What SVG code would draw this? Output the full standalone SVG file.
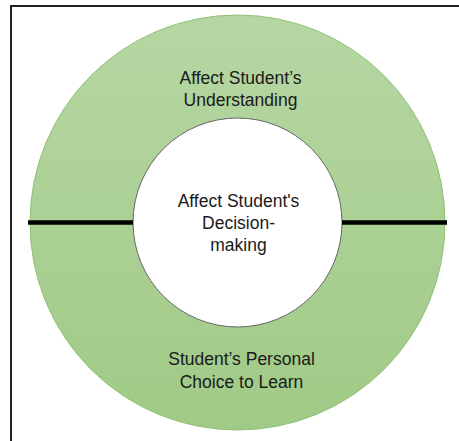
<svg xmlns="http://www.w3.org/2000/svg" width="459" height="441" viewBox="0 0 459 441">
  <defs>
    <linearGradient id="g" x1="0" y1="0" x2="0" y2="1">
      <stop offset="0" stop-color="#b6d7a3"/>
      <stop offset="1" stop-color="#a0ca86"/>
    </linearGradient>
  </defs>
  <style>
    text { font-family: "Liberation Sans", Arial, sans-serif; font-size: 17.5px; fill: #1a1a1a; text-anchor: middle; }
  </style>
  <rect width="459" height="441" fill="#ffffff"/>
  <path d="M11 441 V6 H459" fill="none" stroke="#222" stroke-width="2"/>
  <g id="outer-ring">
    <circle cx="237.5" cy="222.5" r="207.5" fill="url(#g)" stroke="#8fc275" stroke-width="1"/>
    <text x="240.5" y="84">Affect Student’s</text>
    <text x="240.5" y="106">Understanding</text>
    <text x="241.5" y="365">Student’s Personal</text>
    <text x="241.5" y="388">Choice to Learn</text>
  </g>
  <g id="inner-circle">
    <circle cx="237.5" cy="222.5" r="104.5" fill="#ffffff" stroke="#666" stroke-width="1"/>
    <text x="238.5" y="207">Affect Student's</text>
    <text x="238.5" y="229">Decision-</text>
    <text x="238.5" y="251">making</text>
  </g>
  <g id="connectors" stroke="#000" stroke-width="4.5">
    <line x1="28" y1="222.5" x2="133" y2="222.5"/>
    <line x1="342" y1="222.5" x2="447" y2="222.5"/>
  </g>
</svg>
